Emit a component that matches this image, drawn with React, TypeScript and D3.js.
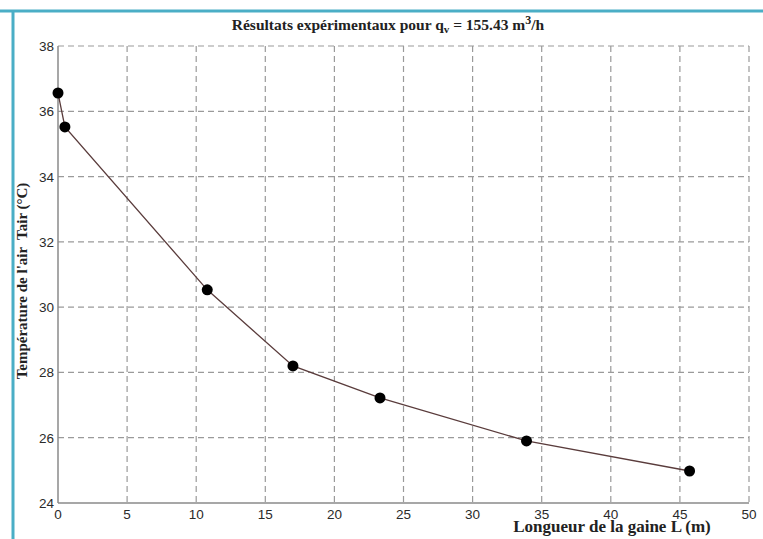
import { scaleLinear, line } from "d3";

// data
const lengths = [0, 0.5, 10.8, 17.0, 23.3, 33.9, 45.7];
const temps = [36.56, 35.52, 30.53, 28.2, 27.22, 25.9, 24.98];
const xTicks = [0, 5, 10, 15, 20, 25, 30, 35, 40, 45, 50];
const yTicks = [24, 26, 28, 30, 32, 34, 36, 38];

const W = 763;
const H = 539;

export default function App() {
  const x = scaleLinear().domain([0, 50]).range([58, 749]);
  const y = scaleLinear().domain([24, 38]).range([503, 46]);

  const pts = lengths.map((l, i) => [x(l), y(temps[i])] as [number, number]);
  const path = line()(pts) ?? "";

  const tickFont = "'Liberation Sans', Arial, sans-serif";
  const labelFont = "'Liberation Serif', 'Times New Roman', serif";

  return (
    <svg
      width={W}
      height={H}
      style={{ position: "absolute", left: 0, top: 0, background: "#fff" }}
    >
      {/* frame */}
      <line x1={0} x2={W} y1={11} y2={11} stroke="#4aaec6" strokeWidth={3} />
      <line x1={13} x2={13} y1={10} y2={H} stroke="#4aaec6" strokeWidth={3} />

      {/* grid */}
      <g stroke="#9a9a9a" strokeWidth={1.2} strokeDasharray="6,4">
        {xTicks.slice(1).map((t) => (
          <line key={"gx" + t} x1={x(t)} x2={x(t)} y1={y(38)} y2={y(24)} />
        ))}
        {yTicks.slice(1).map((t) => (
          <line key={"gy" + t} x1={x(0)} x2={x(50)} y1={y(t)} y2={y(t)} />
        ))}
      </g>

      {/* axes */}
      <g stroke="#8a8a8a" strokeWidth={1.5}>
        <line x1={x(0)} x2={x(0)} y1={y(38)} y2={y(24)} />
        <line x1={x(0)} x2={x(50)} y1={y(24)} y2={y(24)} />
      </g>

      {/* tick labels */}
      <g fontFamily={tickFont} fontSize={13.5} fill="#2a2a2a">
        {xTicks.map((t) => (
          <text key={"tx" + t} x={x(t)} y={y(24) + 16} textAnchor="middle">
            {t}
          </text>
        ))}
        {yTicks.map((t) => (
          <text key={"ty" + t} x={x(0) - 4} y={y(t) + 5} textAnchor="end">
            {t}
          </text>
        ))}
      </g>

      {/* data */}
      <path d={path} fill="none" stroke="#5a3c3c" strokeWidth={1.3} />
      {pts.map(([px, py], i) => (
        <circle key={i} cx={px} cy={py} r={5.5} fill="#000" />
      ))}

      {/* title */}
      <text
        x={388}
        y={30}
        textAnchor="middle"
        fontFamily={labelFont}
        fontWeight="bold"
        fontSize={15.5}
        fill="#222"
      >
        Résultats expérimentaux pour q
        <tspan fontSize={11} dy={3}>v</tspan>
        <tspan dy={-3}> = 155.43 m</tspan>
        <tspan fontSize={12} dy={-6}>3</tspan>
        <tspan dy={6}>/h</tspan>
      </text>

      {/* axis labels */}
      <text
        x={612}
        y={532}
        textAnchor="middle"
        fontFamily={labelFont}
        fontWeight="bold"
        fontSize={17}
        fill="#222"
      >
        Longueur de la gaine L (m)
      </text>
      <text
        transform={`translate(27, 281) rotate(-90)`}
        textAnchor="middle"
        fontFamily={labelFont}
        fontWeight="bold"
        fontSize={15}
        fill="#222"
        style={{ whiteSpace: "pre" }}
      >
        {"Température de l'air  Tair (°C)"}
      </text>
    </svg>
  );
}
